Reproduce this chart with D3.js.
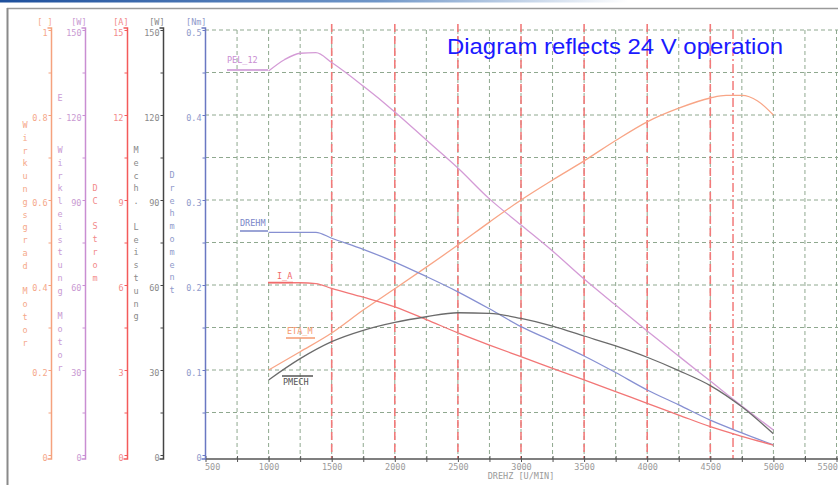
<!DOCTYPE html>
<html><head><meta charset="utf-8">
<script src="https://cdn.jsdelivr.net/npm/d3@7/dist/d3.min.js"></script>
<style>body{margin:0;background:#fff}svg{display:block}</style>
</head><body><svg id="c" width="838" height="485"></svg>
<script>
// ---- data ----
const xTickValues = [500,1000,1500,2000,2500,3000,3500,4000,4500,5000,5500];
const redMarkRpm = [1500,2000,2500,3000,3500,4000,4500];
const limitRpm = [4680];

const pelRpm = [1000,1125,1250,1375,1500,1750,2000,2250,2500,2750,3000,3250,3500,3750,4000,4250,4500,4750,5000];
const pelW   = [135.5,139.5,141.8,142,138.5,130.2,121.1,111.2,101.3,90.4,81.2,72.0,62.1,52.9,43.8,34.9,26.1,17.3,8.8];

const etaRpm = [1000,1250,1500,1750,2000,2250,2500,2750,3000,3250,3500,3750,4000,4250,4500,4625,4750,4875,5000];
const etaVal = [0.200,0.243,0.287,0.341,0.391,0.442,0.494,0.548,0.600,0.647,0.692,0.740,0.784,0.816,0.840,0.846,0.846,0.833,0.800];

const torqueRpm = [1000,1250,1375,1500,1750,2000,2250,2500,2750,3000,3250,3500,3750,4000,4250,4500,4750,5000];
const torqueNm  = [0.262,0.262,0.262,0.255,0.242,0.227,0.210,0.192,0.172,0.151,0.134,0.1165,0.097,0.0765,0.059,0.041,0.026,0.0118];

const currRpm = [1000,1250,1375,1500,1750,2000,2250,2500,2750,3000,3250,3500,3750,4000,4250,4500,4750,5000];
const currA   = [6.08,6.08,6.05,5.88,5.57,5.23,4.78,4.31,3.88,3.47,3.06,2.65,2.24,1.82,1.41,1.00,0.66,0.35];

const pmechRpm = [1000,1250,1500,1750,2000,2250,2500,2750,3000,3250,3500,3750,4000,4250,4500,4750,5000];
const pmechW   = [26.5,34.0,40.0,44.0,46.8,48.8,50.2,50.0,48.2,45.5,42.0,38.5,34.5,29.8,24.5,17.0,7.5];

const effTicks    = ["1","0.8","0.6","0.4","0.2","0"];
const pelTicks    = ["150","120","90","60","30","0"];
const currTicks   = ["15","12","9","6","3","0"];
const pmechTicks  = ["150","120","90","60","30","0"];
const torqueTicks = ["0.5","0.4","0.3","0.2","0.1","0"];

// ---- drawing ----
const svg = d3.select("#c");
const mono = "'DejaVu Sans Mono', 'Liberation Mono', monospace";
const X = d3.scaleLinear().domain([500,5500]).range([205.5,836.5]);
const yTop = 30, yBot = 455;
const yNm  = d3.scaleLinear().domain([0,0.5]).range([yBot,yTop]);
const yEff = d3.scaleLinear().domain([0,1]).range([yBot,yTop]);
const yW   = d3.scaleLinear().domain([0,150]).range([yBot,yTop]);
const yA   = d3.scaleLinear().domain([0,15]).range([yBot,yTop]);

// frame
const defs = svg.append("defs");
const lg = defs.append("linearGradient").attr("id","topg").attr("x1","0").attr("x2","1");
lg.append("stop").attr("offset","0").attr("stop-color","#1d4f9c");
lg.append("stop").attr("offset","0.45").attr("stop-color","#6f96c8");
lg.append("stop").attr("offset","0.75").attr("stop-color","#ffffff");
svg.append("rect").attr("x",0).attr("y",0).attr("width",838).attr("height",2.5).attr("fill","url(#topg)");
svg.append("line").attr("x1",7).attr("x2",838).attr("y1",8.5).attr("y2",8.5).attr("stroke","#9a9a9a").attr("stroke-width",1.5);
svg.append("line").attr("x1",7.5).attr("x2",7.5).attr("y1",8).attr("y2",485).attr("stroke","#8a8a8a").attr("stroke-width",2);

// grid
const g = svg.append("g");
g.selectAll(".hg").data(d3.range(1,11).map(i=>i*0.05)).join("line")
  .attr("x1",205).attr("x2",838).attr("y1",d=>yNm(d)).attr("y2",d=>yNm(d))
  .attr("stroke","#8fa88f").attr("stroke-width",1).attr("stroke-dasharray","4,3");
g.selectAll(".vg").data(d3.range(750,5501,250)).join("line")
  .attr("x1",d=>X(d)).attr("x2",d=>X(d)).attr("y1",yTop).attr("y2",459)
  .attr("stroke","#8fa88f").attr("stroke-width",1).attr("stroke-dasharray","4,3");
g.selectAll(".rg").data(redMarkRpm).join("line")
  .attr("x1",d=>X(d)).attr("x2",d=>X(d)).attr("y1",yTop-6).attr("y2",459)
  .attr("stroke","#f27a7a").attr("stroke-width",1.6).attr("stroke-dasharray","8,4");
g.selectAll(".lim").data(limitRpm).join("line")
  .attr("x1",d=>X(d)).attr("x2",d=>X(d)).attr("y1",yTop).attr("y2",459)
  .attr("stroke","#f27a7a").attr("stroke-width",1.5).attr("stroke-dasharray","9,3,2,3");

// x axis
const xAxis = d3.axisBottom(X).tickValues(d3.range(500,5501,250)).tickSize(3)
  .tickFormat(d => xTickValues.includes(d) ? d : "");
const xa = svg.append("g").attr("transform","translate(0,459)").call(xAxis);
xa.select(".domain").attr("stroke","#555").attr("stroke-width",1.6).attr("d","M205,0H838");
xa.selectAll(".tick line").attr("stroke","#555").attr("y1",-3).attr("y2",3);
xa.selectAll(".tick text").attr("font-family",mono).attr("font-size",8.5).attr("fill","#9a9a9a").attr("dy","0.55em")
  .attr("text-anchor", d => d === 500 ? "start" : (d === 5500 ? "end" : "middle"))
  .attr("x", d => d === 500 ? -1 : (d === 5500 ? 1 : 0));
svg.append("text").attr("x",521).attr("y",479).attr("text-anchor","middle")
  .attr("font-family",mono).attr("font-size",8.5).attr("fill","#9a9a9a").text("DREHZ [U/MIN]");

// left axes
const axesDef = [
  {x:51.5, scale:yEff, max:1, labels:effTicks, unit:"[ ]", parts:[{s:"Wirkungsgrad Motor", y:125, step:12.8}], tx:25, color:"#f5a27e", text:"#f5a88a"},
  {x:85.5, scale:yW, max:150, labels:pelTicks, unit:"[W]", parts:[{s:"E-", y:98, step:20},{s:"Wirkleistung Motor", y:150, step:12.8}], tx:60, color:"#c98ed2", text:"#c99ad2"},
  {x:127.5, scale:yA, max:15, labels:currTicks, unit:"[A]", parts:[{s:"DC Strom", y:188, step:12.8}], tx:95, color:"#f45a5a", text:"#f28a8a"},
  {x:163.5, scale:yW, max:150, labels:pmechTicks, unit:"[W]", parts:[{s:"Mech. Leistung", y:150, step:12.8}], tx:136, color:"#444", text:"#8a8a8a"},
  {x:205.5, scale:yNm, max:0.5, labels:torqueTicks, unit:"[Nm]", parts:[{s:"Drehmoment", y:175, step:12.8}], tx:172, color:"#6a78c2", text:"#8f9acb"}
];
axesDef.forEach(a => {
  const vals = d3.range(0,11).map(i => a.max*i/10);
  const ax = d3.axisLeft(a.scale).tickValues(vals).tickSize(3).tickSizeOuter(0)
    .tickFormat((d,i) => (i%2===0) ? a.labels[5 - i/2] : "");
  const ag = svg.append("g").attr("transform",`translate(${a.x},0)`).call(ax);
  ag.select(".domain").attr("d",`M-4,${yTop-2}H0V459H-4`).attr("stroke",a.color).attr("stroke-width",1.5).attr("fill","none");
  ag.selectAll(".tick line").attr("stroke",a.color);
  ag.selectAll(".tick text").attr("font-family",mono).attr("font-size",8.5).attr("fill",a.text).attr("x",-4).attr("dy","0.65em");
  svg.append("text").attr("x",a.x+1).attr("y",25).attr("text-anchor","end")
    .attr("font-family",mono).attr("font-size",8.5).attr("fill",a.text).text(a.unit);
  const tg = svg.append("g");
  a.parts.forEach(p => {
    tg.append("g").selectAll("text").data(p.s.split("")).join("text")
      .attr("x",a.tx).attr("y",(d,i)=>p.y + i*p.step).attr("text-anchor","middle").attr("dy","0.35em")
      .attr("font-family",mono).attr("font-size",8.5).attr("fill",a.text).text(d=>d);
  });
});

// curves
const curves = [
  {rpm:pelRpm, v:pelW, y:yW, color:"#d49bd6"},
  {rpm:etaRpm, v:etaVal, y:yEff, color:"#f8a586"},
  {rpm:torqueRpm, v:torqueNm, y:yNm, color:"#8790d2"},
  {rpm:currRpm, v:currA, y:yA, color:"#f27676"},
  {rpm:pmechRpm, v:pmechW, y:yW, color:"#6b6b6b"}
];
const cg = svg.append("g");
curves.forEach(c => {
  const line = d3.line().x(d=>X(d[0])).y(d=>c.y(d[1])).curve(d3.curveMonotoneX);
  cg.append("path").attr("d", line(c.rpm.map((r,i)=>[r,c.v[i]])))
    .attr("fill","none").attr("stroke",c.color).attr("stroke-width",1.3);
});

// curve labels with leader lines
const labels = [
  {t:"PEL_12", x:227, y:63, lx1:227, lx2:268, ly:70, color:"#c98ed2"},
  {t:"DREHM", x:240, y:226, lx1:240, lx2:268, ly:231, color:"#7a86c8"},
  {t:"I_A", x:277, y:279, lx1:268, lx2:293, ly:282.5, color:"#f06a6a"},
  {t:"ETA_M", x:287, y:334, lx1:286, lx2:315, ly:338, color:"#f59a70"},
  {t:"PMECH", x:283, y:385, lx1:282, lx2:313, ly:376, color:"#555"}
];
labels.forEach(l => {
  svg.append("line").attr("x1",l.lx1).attr("x2",l.lx2).attr("y1",l.ly).attr("y2",l.ly)
    .attr("stroke",l.color).attr("stroke-width",1.5);
  svg.append("text").attr("x",l.x).attr("y",l.y).attr("font-family",mono).attr("font-size",8.5)
    .attr("fill",l.color).text(l.t);
});

svg.append("text").attr("x",447).attr("y",54).attr("font-family","'Liberation Sans', Arial, sans-serif")
  .attr("font-size",22).attr("textLength",336).attr("lengthAdjust","spacingAndGlyphs")
  .attr("fill","#1a1aff").text("Diagram reflects 24 V operation");
</script></body></html>
